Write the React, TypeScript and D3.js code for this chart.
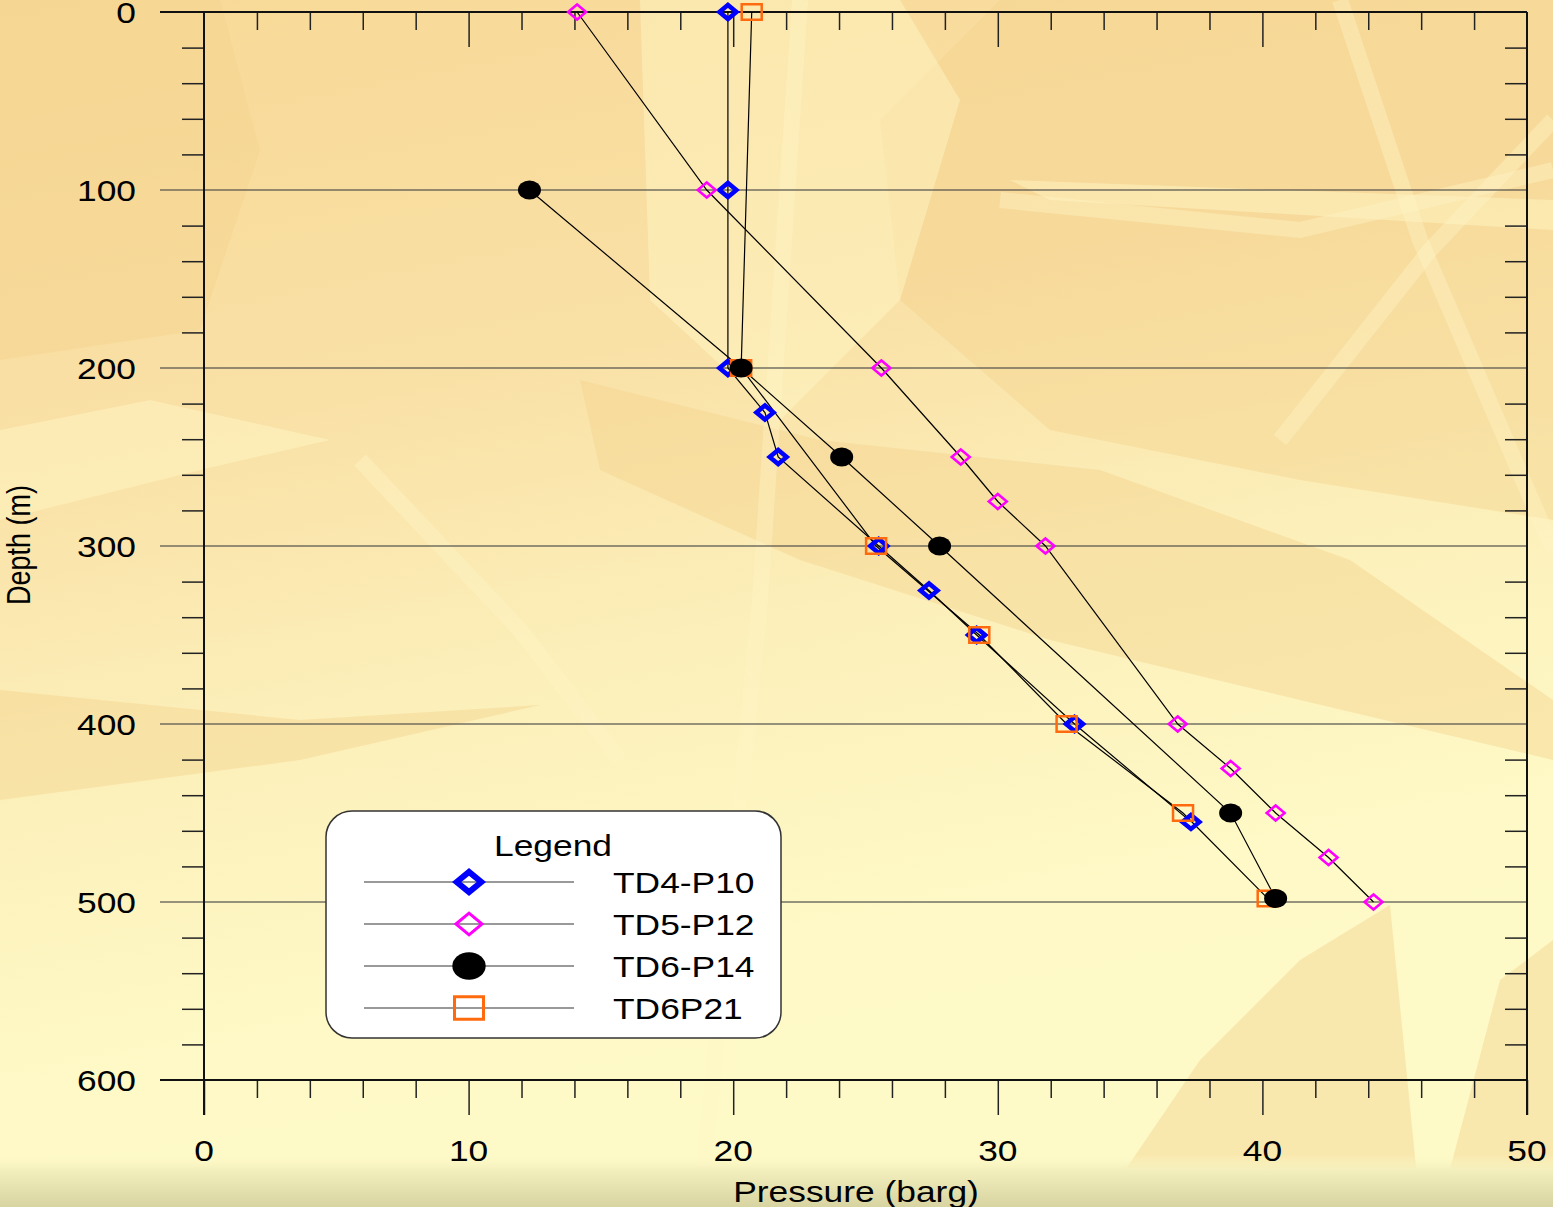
import React, { useEffect, useRef } from 'react';
import * as d3 from 'd3';

// series data: depth (m) and pressure (barg)
const td4Depth = [0, 100, 200, 225, 250, 300, 325, 350, 400, 455];
const td4Press = [19.8, 19.8, 19.8, 21.2, 21.7, 25.5, 27.4, 29.2, 32.9, 37.3];

const td5Depth = [0, 100, 200, 250, 275, 300, 400, 425, 450, 475, 500];
const td5Press = [14.1, 19.0, 25.6, 28.6, 30.0, 31.8, 36.8, 38.8, 40.5, 42.5, 44.2];

const td6Depth = [100, 200, 250, 300, 450, 498];
const td6Press = [12.3, 20.3, 24.1, 27.8, 38.8, 40.5];

const td21Depth = [0, 200, 300, 350, 400, 450, 498];
const td21Press = [20.7, 20.3, 25.4, 29.3, 32.6, 37.0, 40.2];

const seriesNames = ['TD4-P10', 'TD5-P12', 'TD6-P14', 'TD6P21'];
const xTickLabels = [0, 10, 20, 30, 40, 50];
const yTickLabels = [0, 100, 200, 300, 400, 500, 600];

const FONT = '"Liberation Sans", Arial, sans-serif';
const SX = 1.22; // the picture is stretched horizontally

function App() {
  const svgRef = useRef<SVGSVGElement>(null);

  useEffect(() => {
    document.body.style.margin = '0';
    document.body.style.overflow = 'hidden';

    const W = 1553;
    const H = 1207;
    const svg = d3.select(svgRef.current);
    svg.selectAll('*').remove();
    svg.attr('width', W).attr('height', H);

    const x = d3.scaleLinear().domain([0, 50]).range([204, 1527]);
    const y = d3.scaleLinear().domain([0, 600]).range([12, 1080]);

    // ---------- background ----------
    const defs = svg.append('defs');
    const bg = defs.append('linearGradient').attr('id', 'bg').attr('x1', 0).attr('y1', 0).attr('x2', 0.25).attr('y2', 1);
    bg.append('stop').attr('offset', 0).attr('stop-color', '#f8d997');
    bg.append('stop').attr('offset', 0.35).attr('stop-color', '#f9e0a5');
    bg.append('stop').attr('offset', 0.6).attr('stop-color', '#fcefb9');
    bg.append('stop').attr('offset', 0.85).attr('stop-color', '#fef9c6');
    bg.append('stop').attr('offset', 1).attr('stop-color', '#fefac8');
    const band = defs.append('linearGradient').attr('id', 'band').attr('x1', 0).attr('y1', 0).attr('x2', 0).attr('y2', 1);
    band.append('stop').attr('offset', 0).attr('stop-color', '#fcf8c6').attr('stop-opacity', 0);
    band.append('stop').attr('offset', 0.3).attr('stop-color', '#f3efbd').attr('stop-opacity', 1);
    band.append('stop').attr('offset', 1).attr('stop-color', '#d8d4a2').attr('stop-opacity', 1);

    svg.append('rect').attr('width', W).attr('height', H).attr('fill', 'url(#bg)');

    const tan = [
      [[1000, 0], [1553, 0], [1553, 520], [1300, 480], [1050, 430], [900, 300], [880, 120]],
      [[580, 380], [820, 440], [1100, 470], [1350, 560], [1553, 700], [1553, 760], [1300, 700], [1050, 640], [800, 560], [600, 470]],
      [[1100, 1207], [1200, 1060], [1300, 960], [1390, 905], [1420, 1207]],
      [[1440, 1207], [1500, 980], [1553, 940], [1553, 1207]],
      [[0, 0], [220, 0], [260, 150], [200, 330], [0, 360]],
      [[0, 690], [300, 720], [540, 705], [300, 760], [0, 800]]
    ];
    const light = [
      [[640, 0], [900, 0], [960, 100], [900, 300], [780, 420], [650, 300]],
      [[0, 430], [150, 400], [330, 440], [200, 470], [0, 520]],
      [[1010, 180], [1553, 200], [1553, 230], [1050, 200]]
    ];
    const lineGen = d3.line();
    svg.append('g').selectAll('path').data(tan).join('path')
      .attr('d', d => lineGen(d as [number, number][]) + 'Z')
      .attr('fill', '#f5d38e').attr('opacity', 0.45);
    svg.append('g').selectAll('path').data(light).join('path')
      .attr('d', d => lineGen(d as [number, number][]) + 'Z')
      .attr('fill', '#fff8c8').attr('opacity', 0.45);
    const streaks = [
      [[1340, 0], [1420, 240], [1553, 550]],
      [[1553, 120], [1430, 250], [1280, 440]],
      [[1000, 200], [1300, 230], [1553, 170]],
      [[700, 1207], [760, 600], [800, 0]],
      [[360, 460], [520, 630], [620, 760]]
    ];
    svg.append('g').selectAll('path').data(streaks).join('path')
      .attr('d', d => lineGen(d as [number, number][]))
      .attr('fill', 'none').attr('stroke', '#fff4c6').attr('stroke-width', 16).attr('opacity', 0.4);
    svg.append('rect').attr('x', 0).attr('y', 1155).attr('width', W).attr('height', H - 1155).attr('fill', 'url(#band)');

    // ---------- grid and axes ----------
    const grid = svg.append('g');
    grid.selectAll('line').data([100, 200, 300, 400, 500]).join('line')
      .attr('x1', 160).attr('x2', x(50)).attr('y1', d => y(d)).attr('y2', d => y(d))
      .attr('stroke', '#444').attr('stroke-opacity', 0.75).attr('stroke-width', 1.5);

    const minorX = d3.range(0, 51, 2).filter(v => v % 10 !== 0);
    const minorY = d3.range(0, 601, 20).filter(v => v % 100 !== 0);
    const styleAxis = (g: any) => {
      g.select('.domain').remove();
      g.selectAll('line').attr('stroke', '#222').attr('stroke-width', 1.5);
    };

    // top axis: ticks point inward (down)
    svg.append('g').attr('transform', `translate(0,${y(0)})`)
      .call(d3.axisBottom(x).tickValues(minorX).tickSize(18).tickFormat(() => '')).call(styleAxis);
    svg.append('g').attr('transform', `translate(0,${y(0)})`)
      .call(d3.axisBottom(x).tickValues([10, 20, 30, 40]).tickSize(35).tickFormat(() => '')).call(styleAxis);
    // bottom axis: ticks point outward (down)
    svg.append('g').attr('transform', `translate(0,${y(600)})`)
      .call(d3.axisBottom(x).tickValues(minorX).tickSize(18).tickFormat(() => '')).call(styleAxis);
    svg.append('g').attr('transform', `translate(0,${y(600)})`)
      .call(d3.axisBottom(x).tickValues(xTickLabels).tickSize(35).tickFormat(() => '')).call(styleAxis);
    // left axis minor ticks outward, right axis minor ticks inward
    svg.append('g').attr('transform', `translate(${x(0)},0)`)
      .call(d3.axisLeft(y).tickValues(minorY).tickSize(22).tickFormat(() => '')).call(styleAxis);
    svg.append('g').attr('transform', `translate(${x(50)},0)`)
      .call(d3.axisLeft(y).tickValues(minorY).tickSize(22).tickFormat(() => '')).call(styleAxis);

    // frame lines
    const frame = svg.append('g').attr('stroke', '#111').attr('stroke-width', 2);
    frame.append('line').attr('x1', 160).attr('x2', x(50)).attr('y1', y(0)).attr('y2', y(0));
    frame.append('line').attr('x1', 160).attr('x2', x(50)).attr('y1', y(600)).attr('y2', y(600));
    frame.append('line').attr('x1', x(0)).attr('x2', x(0)).attr('y1', y(0)).attr('y2', y(600) + 35);
    frame.append('line').attr('x1', x(50)).attr('x2', x(50)).attr('y1', y(0)).attr('y2', y(600) + 35);

    // ---------- labels ----------
    const label = (tx: number, ty: number, txt: string, anchor: string, size: number) =>
      svg.append('text')
        .attr('transform', `translate(${tx},${ty}) scale(${SX},1)`)
        .attr('text-anchor', anchor)
        .attr('font-family', FONT)
        .attr('font-size', size)
        .attr('fill', '#000')
        .text(txt);

    yTickLabels.forEach(v => label(136, y(v) + 11, String(v), 'end', 29));
    xTickLabels.forEach(v => label(x(v), 1161, String(v), 'middle', 29));
    label(856, 1202, 'Pressure (barg)', 'middle', 29);
    svg.append('text')
      .attr('transform', `translate(30,545) scale(${SX},1) rotate(-90)`)
      .attr('text-anchor', 'middle').attr('font-family', FONT).attr('font-size', 27)
      .text('Depth (m)');

    // ---------- series ----------
    const series = [
      { depth: td4Depth, press: td4Press },
      { depth: td5Depth, press: td5Press },
      { depth: td6Depth, press: td6Press },
      { depth: td21Depth, press: td21Press }
    ];
    const line = d3.line<[number, number]>().x(d => x(d[0])).y(d => y(d[1]));
    const pts = (s: { depth: number[]; press: number[] }) =>
      s.press.map((p, i) => [p, s.depth[i]] as [number, number]);

    svg.append('g').selectAll('path').data(series).join('path')
      .attr('d', s => line(pts(s)))
      .attr('fill', 'none').attr('stroke', '#000').attr('stroke-width', 1.2);

    const diamond = (hw: number, hh: number) => `M${-hw},0L0,${-hh}L${hw},0L0,${hh}Z`;
    const rectP = (hw: number, hh: number) => `M${-hw},${-hh}H${hw}V${hh}H${-hw}Z`;

    const drawMarker = (g: any, kind: number, big: boolean) => {
      const k = big ? 1.45 : 1;
      if (kind === 0) {
        g.append('path').attr('d', diamond(8.5 * k, 7 * k)).attr('fill', 'none')
          .attr('stroke', '#0000ff').attr('stroke-width', big ? 6 : 4.5);
      } else if (kind === 1) {
        g.append('path').attr('d', diamond(9 * k, 7.5 * k)).attr('fill', 'none')
          .attr('stroke', '#ff00ff').attr('stroke-width', big ? 3 : 2.5);
      } else if (kind === 2) {
        g.append('ellipse').attr('rx', 11.5 * k).attr('ry', 9.5 * k).attr('fill', '#000');
      } else {
        g.append('path').attr('d', rectP(10 * k, 7.8 * k)).attr('fill', 'none')
          .attr('stroke', '#ff6a0e').attr('stroke-width', big ? 3 : 2.5);
      }
    };

    // draw order: blue, magenta, orange, black
    [0, 1, 3, 2].forEach(si => {
      const g = svg.append('g');
      pts(series[si]).forEach(p => {
        const m = g.append('g').attr('transform', `translate(${x(p[0])},${y(p[1])})`);
        drawMarker(m, si, false);
      });
    });

    // ---------- legend ----------
    const lg = svg.append('g');
    lg.append('rect').attr('x', 326).attr('y', 811).attr('width', 455).attr('height', 227)
      .attr('rx', 26).attr('fill', '#fff').attr('stroke', '#333').attr('stroke-width', 1.5);
    seriesNames.forEach((name, i) => {
      const ly = 882 + i * 42;
      lg.append('line').attr('x1', 364).attr('x2', 574).attr('y1', ly).attr('y2', ly)
        .attr('stroke', '#777').attr('stroke-width', 1.5);
      const m = lg.append('g').attr('transform', `translate(469,${ly})`);
      drawMarker(m, i, true);
      label(613, ly + 11, name, 'start', 29);
    });
    label(553, 856, 'Legend', 'middle', 29);
  }, []);

  return <svg ref={svgRef} style={{ display: 'block' }}></svg>;
}

export default App;
